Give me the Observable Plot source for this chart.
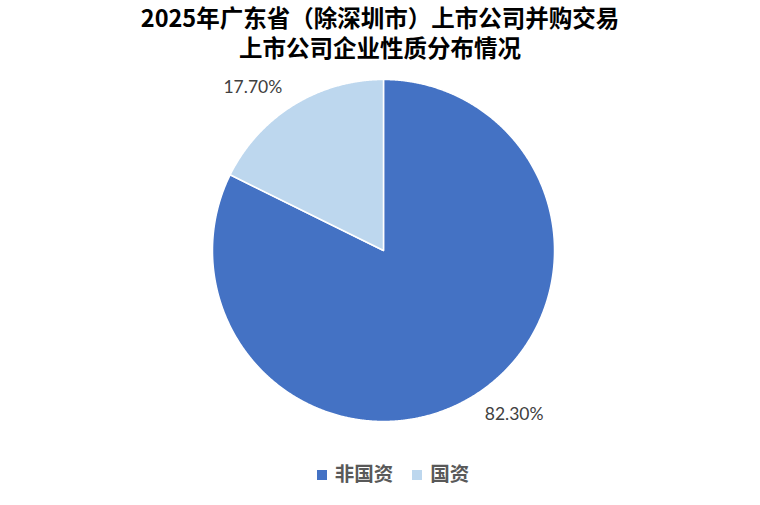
<!DOCTYPE html>
<html><head><meta charset="utf-8">
<script src="https://cdn.jsdelivr.net/npm/d3@7"></script>
<script src="https://cdn.jsdelivr.net/npm/@observablehq/plot@0.6"></script>
<style>
body{margin:0;background:#fff;width:760px;height:505px;overflow:hidden;font-family:"Noto Sans CJK SC",sans-serif}
#title{height:64px;text-align:center;font-weight:bold;font-size:23.5px;color:#000;box-sizing:border-box;position:relative}
#title div{position:absolute;left:0;right:0;line-height:28px;white-space:nowrap}
#legend{display:flex;justify-content:center;align-items:center;gap:19px;margin-top:14px;font-size:19.5px;color:#595959;font-weight:bold;padding-left:26px}
#legend span.sw{display:inline-block;width:10px;height:10px;margin-right:8px;vertical-align:middle;position:relative;top:-1px}
</style></head>
<body>
<div id="title"><div style="top:3px">2025年广东省（除深圳市）上市公司并购交易</div><div style="top:33px">上市公司企业性质分布情况</div></div>
<div id="chart"></div>
<div id="legend"></div>
<script>
const categories = ["非国资", "国资"];
const values = [82.3, 17.7];
const labels = ["82.30%", "17.70%"];
const colors = ["#4472C4", "#BDD7EE"];

const arcs = d3.pie().sort(null).startAngle(0).endAngle(2 * Math.PI)(values);
const pts = [];
arcs.forEach((a, i) => {
  pts.push({cat: categories[i], x: 0, y: 0});
  const n = Math.max(2, Math.ceil((a.endAngle - a.startAngle) / 0.005));
  for (let k = 0; k <= n; k++) {
    const t = a.startAngle + (a.endAngle - a.startAngle) * k / n;
    pts.push({cat: categories[i], x: Math.sin(t), y: Math.cos(t)});
  }
});
const lab = arcs.map((a, i) => {
  const m = (a.startAngle + a.endAngle) / 2;
  return {text: labels[i], x: 1.1 * Math.sin(m), y: 1.1 * Math.cos(m), anchor: Math.sin(m) >= 0 ? "start" : "end"};
});

const cx = 383, cy = 186, r = 171;
const plot = Plot.plot({
  width: 760, height: 380,
  margin: 0,
  x: {domain: [-1, 1], range: [cx - r, cx + r], axis: null},
  y: {domain: [-1, 1], range: [cy + r, cy - r], axis: null},
  color: {domain: categories, range: colors},
  style: {background: "#fff"},
  marks: [
    Plot.line(pts, {x: "x", y: "y", z: "cat", fill: "cat", stroke: "#fff", strokeWidth: 1.5, curve: "linear-closed"}),
    Plot.text(lab.filter(d => d.anchor === "start"), {x: "x", y: "y", text: "text", textAnchor: "start", fill: "#404040", fontSize: 17.5, fontFamily: "Lato, sans-serif", dx: 2, dy: 4}),
    Plot.text(lab.filter(d => d.anchor === "end"), {x: "x", y: "y", text: "text", textAnchor: "end", fill: "#404040", fontSize: 17.5, fontFamily: "Lato, sans-serif", dx: -2, dy: -3})
  ]
});
document.getElementById("chart").appendChild(plot);

const leg = document.getElementById("legend");
categories.forEach((c, i) => {
  const d = document.createElement("div");
  d.innerHTML = `<span class="sw" style="background:${colors[i]}"></span>${c}`;
  leg.appendChild(d);
});
</script>
</body></html>
